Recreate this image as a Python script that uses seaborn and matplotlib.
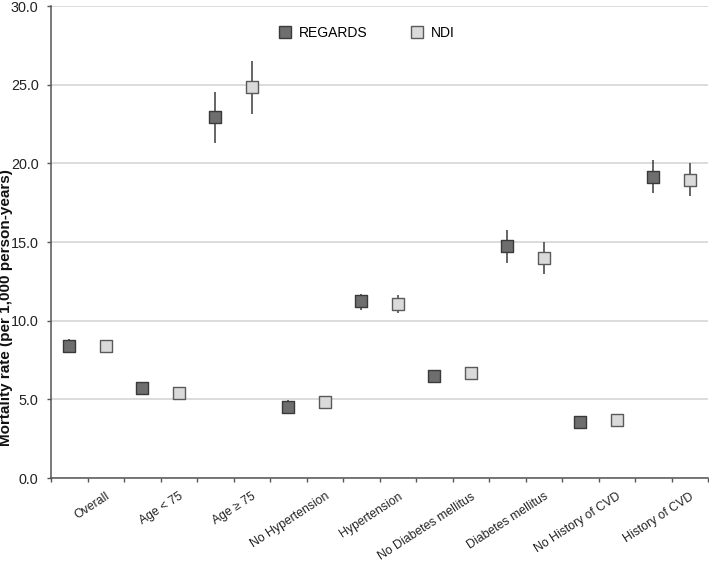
import numpy as np
import pandas as pd
import matplotlib
matplotlib.use("Agg")
import matplotlib.pyplot as plt
import seaborn as sns
from matplotlib.lines import Line2D
from matplotlib.ticker import FixedLocator

categories = ["Overall", "Age < 75", "Age \u2265 75", "No Hypertension", "Hypertension",
              "No Diabetes mellitus", "Diabetes mellitus", "No History of CVD", "History of CVD"]
regards_val = [8.42, 5.74, 22.97, 4.53, 11.22, 6.46, 14.73, 3.58, 19.16]
regards_lo = [8.07, 5.42, 21.32, 4.11, 10.68, 6.17, 13.69, 3.40, 18.14]
regards_hi = [8.82, 6.06, 24.56, 4.96, 11.72, 6.78, 15.75, 3.76, 20.20]
ndi_val = [8.42, 5.40, 24.86, 4.80, 11.06, 6.70, 14.01, 3.67, 18.97]
ndi_lo = [8.10, 5.08, 23.16, 4.39, 10.47, 6.40, 12.97, 3.50, 17.93]
ndi_hi = [8.80, 5.72, 26.51, 5.21, 11.63, 7.02, 15.02, 3.84, 20.00]
series = ["REGARDS", "NDI"]
yticks = [0.0, 5.0, 10.0, 15.0, 20.0, 25.0, 30.0]

plt.rcParams['font.family'] = ['Liberation Sans', 'DejaVu Sans']

rows = []
for i, c in enumerate(categories):
    rows.append(dict(cat=c, src="REGARDS", pos=2 * i + 0.5, val=regards_val[i], lo=regards_lo[i], hi=regards_hi[i]))
    rows.append(dict(cat=c, src="NDI", pos=2 * i + 1.5, val=ndi_val[i], lo=ndi_lo[i], hi=ndi_hi[i]))
df = pd.DataFrame(rows)

fills = {"REGARDS": "#6e6e6e", "NDI": "#dadada"}
edges = {"REGARDS": "#3a3a3a", "NDI": "#5a5a5a"}

fig = plt.figure(figsize=(7.09, 5.70), dpi=100)
ax = fig.add_axes([51 / 709, 92 / 570, 657 / 709, 472 / 570])

for s in series:
    d = df[df.src == s]
    ax.errorbar(d.pos, d.val, yerr=[d.val - d.lo, d.hi - d.val], fmt="none",
                ecolor="#3c3c3c", elinewidth=1.1, capsize=0, zorder=2)

for s in series:
    d = df[df.src == s]
    sns.scatterplot(data=d, x="pos", y="val", marker="s", s=78, color=fills[s],
                    edgecolor=edges[s], linewidth=1.0, ax=ax, zorder=3, legend=False)

ax.set_xlim(0, 18)
ax.set_ylim(0, 30)
ax.set_yticks(yticks)
ax.set_yticklabels([f"{v:.1f}" for v in yticks], fontsize=10.4)
ax.grid(axis="y", color="#d6d6d6", linewidth=1.2, zorder=0)
ax.set_axisbelow(True)

ax.xaxis.set_minor_locator(FixedLocator(np.arange(0, 18.1, 1)))
ax.set_xticks([2 * i + 1.5 for i in range(len(categories))])
ax.set_xticklabels(categories, rotation=33, ha="right", rotation_mode="anchor", fontsize=8.8)
ax.tick_params(axis="x", which="major", length=0, pad=9, colors="#222222")
ax.tick_params(axis="x", which="minor", length=3, width=1.0, color="#555555", direction="out")
ax.tick_params(axis="y", which="major", length=3, width=1.0, color="#555555", direction="out", pad=6, labelcolor="#222222")

for sp in ["top", "right"]:
    ax.spines[sp].set_visible(False)
for sp in ["left", "bottom"]:
    ax.spines[sp].set_color("#555555")
    ax.spines[sp].set_linewidth(1.1)

ax.set_xlabel("")
ax.set_ylabel("")
fig.text(6 / 709, (570 - 308) / 570, "Mortality rate (per 1,000 person-years)", rotation=90,
         ha="center", va="center", fontsize=11, fontweight="bold", color="#111111")

handles = [Line2D([], [], marker="s", linestyle="none", markersize=9, markerfacecolor=fills[s],
                  markeredgecolor=edges[s], markeredgewidth=1.0, label=s) for s in series]
ax.legend(handles=handles, loc="center left", bbox_to_anchor=(0.324, 0.943), ncol=2, frameon=False,
          fontsize=10, handletextpad=0.4, columnspacing=3.0, handlelength=1.2)

fig.savefig("out.png", dpi=100)
